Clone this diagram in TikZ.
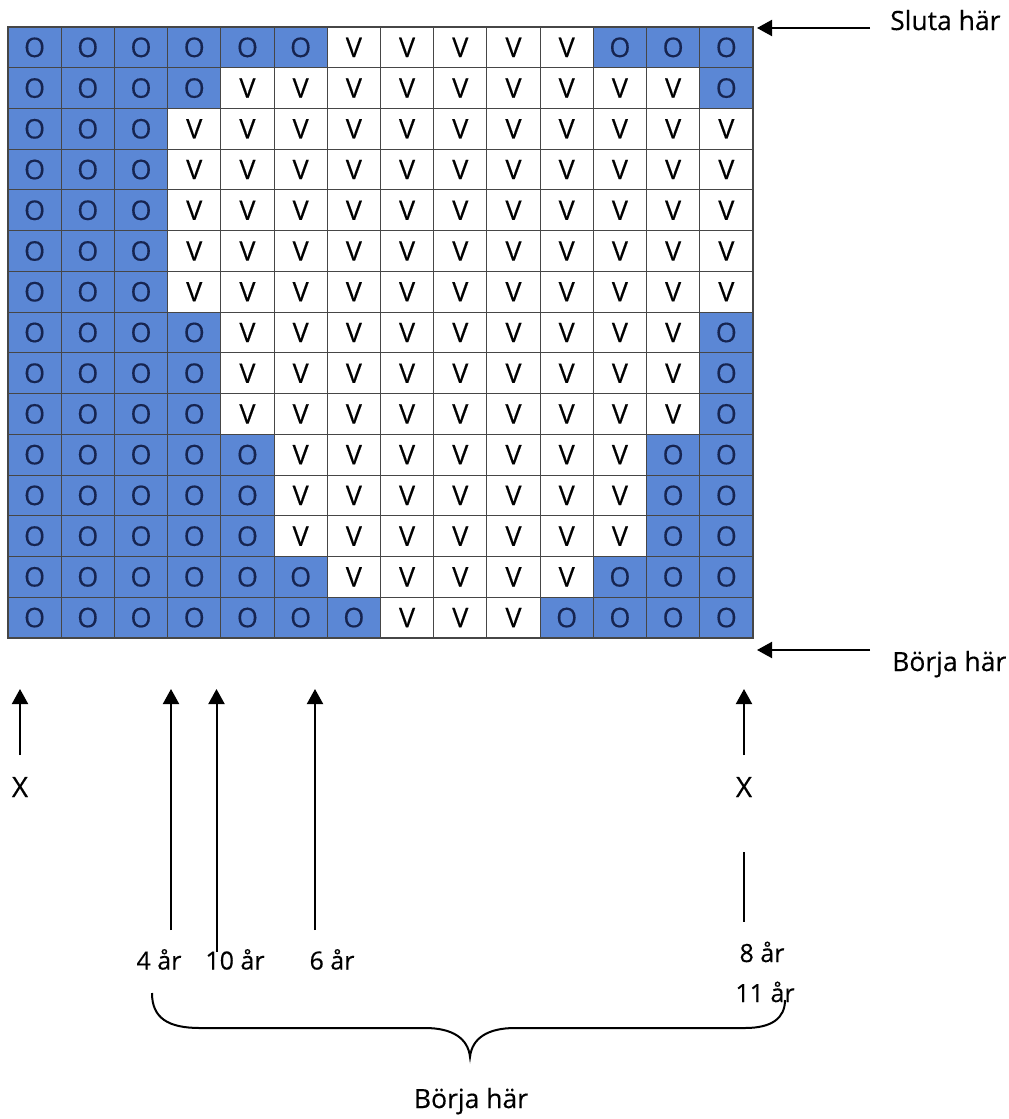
\documentclass[tikz,border=0pt]{standalone}
\usepackage{fontspec}
\setmainfont{Open Sans}[FakeBold=0.35]
\usetikzlibrary{arrows.meta}
\definecolor{cellblue}{RGB}{91,135,213}
\definecolor{onavy}{RGB}{22,36,80}
\definecolor{gridline}{RGB}{70,70,70}
\tikzset{
  cellbase/.style={draw=gridline, line width=1pt, minimum width=53.21pt, minimum height=40.73pt, inner sep=0pt, outer sep=0pt, font=\fontsize{27}{30}\selectfont},
  ocell/.style={cellbase, fill=cellblue, text=onavy},
  vcell/.style={cellbase, fill=white, text=black},
  lbl/.style={inner sep=0pt, font=\fontsize{25}{28}\selectfont, anchor=base},
  sidelbl/.style={inner sep=0pt, font=\fontsize{26.5}{30}\selectfont, anchor=base west},
  xlbl/.style={inner sep=0pt, font=\fontsize{28}{30}\selectfont, anchor=base},
  uparrow/.style={line width=2pt, -{Triangle[length=15pt,width=16pt]}},
  plainline/.style={line width=2pt},
  bracestyle/.style={line width=2pt}
}
\begin{document}
\begin{tikzpicture}[x=1pt,y=-1pt]
\useasboundingbox (0,0) rectangle (1009,1119);
% grid
\foreach \r/\a/\b in {1/7/11,2/5/13,3/4/14,4/4/14,5/4/14,6/4/14,7/4/14,8/5/13,9/5/13,10/5/13,11/6/12,12/6/12,13/6/12,14/7/11,15/8/10}{
  \foreach \c in {1,...,14}{
    \pgfmathsetmacro{\cx}{8+53.21*(\c-0.5)}
    \pgfmathsetmacro{\cy}{27+40.73*(\r-0.5)}
    \ifnum\c<\a
      \node[ocell] (c-\r-\c) at (\cx,\cy) {O};
    \else\ifnum\c>\b
      \node[ocell] (c-\r-\c) at (\cx,\cy) {O};
    \else
      \node[vcell] (c-\r-\c) at (\cx,\cy) {V};
    \fi\fi
  }
}
\draw[gridline, line width=1.3pt] (8,27) rectangle (753,638);
% right side arrows
\node[sidelbl] (sluta) at (890,30) {Sluta här};
\coordinate (slutaTail) at (870,28);
\coordinate (slutaTip) at (757,28);
\draw[uparrow] (slutaTail) -- (slutaTip);
\node[sidelbl] (borjaR) at (892,671) {Börja här};
\coordinate (borjaTail) at (870,650);
\coordinate (borjaTip) at (757,650);
\draw[uparrow] (borjaTail) -- (borjaTip);
% left X
\coordinate (xlTail) at (20,755);
\coordinate (xlTip) at (20,689);
\draw[uparrow] (xlTail) -- (xlTip);
\node[xlbl] (xl) at (20,797) {X};
% age arrows
\coordinate (a4b) at (171,930);
\coordinate (a4t) at (171,689);
\draw[uparrow] (a4b) -- (a4t);
\node[lbl] (l4) at (159,969.5) {4 år};
\coordinate (a10b) at (216.5,952);
\coordinate (a10t) at (216.5,689);
\draw[uparrow] (a10b) -- (a10t);
\node[lbl] (l10) at (235,969.5) {10 år};
\coordinate (a6b) at (315,930);
\coordinate (a6t) at (315,689);
\draw[uparrow] (a6b) -- (a6t);
\node[lbl] (l6) at (332,969.5) {6 år};
% right X
\coordinate (xrTail) at (744,755);
\coordinate (xrTip) at (744,689);
\draw[uparrow] (xrTail) -- (xrTip);
\node[xlbl] (xr) at (744,797) {X};
\coordinate (r1) at (744,852);
\coordinate (r2) at (744,922);
\draw[plainline] (r1) -- (r2);
\node[lbl] (l8) at (762,962) {8 år};
\node[lbl] (l11) at (765,1002) {11 år};
% brace
\coordinate (bL) at (152,993);
\coordinate (bTip) at (470,1057);
\coordinate (bR) at (785,1000);
\draw[bracestyle] (bL) .. controls (152,1018) and (168,1028) .. (200,1028)
  -- (425,1028) .. controls (452,1028) and (468,1038) .. (bTip)
  .. controls (472,1038) and (488,1028) .. (515,1028)
  -- (745,1028) .. controls (772,1028) and (785,1018) .. (bR);
\node[sidelbl, anchor=base] (borjaB) at (471,1108) {Börja här};
\end{tikzpicture}
\end{document}
